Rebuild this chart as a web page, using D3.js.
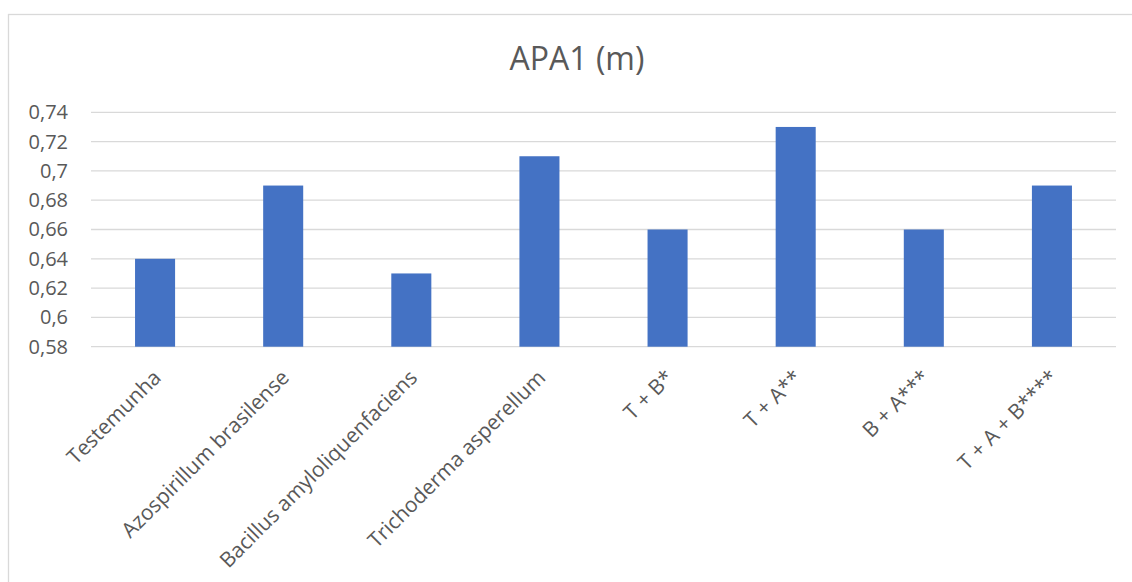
<!DOCTYPE html>
<html>
<head>
<meta charset="utf-8">
<script src="https://cdn.jsdelivr.net/npm/d3@7"></script>
<style>
  html, body { margin: 0; padding: 0; background: #fff; }
  svg { display: block; font-family: "Open Sans", sans-serif; }
</style>
</head>
<body>
<svg id="chart" width="1132" height="582"></svg>
<script>
// Treatments and plant height (APA1, metres)
const categories = [
  "Testemunha",
  "Azospirillum brasilense",
  "Bacillus amyloliquenfaciens",
  "Trichoderma asperellum",
  "T + B*",
  "T + A**",
  "B + A***",
  "T + A + B****"
];
const values = [0.64, 0.69, 0.63, 0.71, 0.66, 0.73, 0.66, 0.69];
const yTicks = [0.58, 0.60, 0.62, 0.64, 0.66, 0.68, 0.70, 0.72, 0.74];
const title = "APA1 (m)";

const svg = d3.select("#chart");
const W = 1132, H = 582;
const plot = { left: 91, right: 1116, top: 112.3, bottom: 346.7 };

// chart area outline
svg.append("rect")
  .attr("x", 8.5).attr("y", 14.5)
  .attr("width", W + 20).attr("height", H + 20)
  .attr("fill", "#fff").attr("stroke", "#d9d9d9").attr("stroke-width", 1.3);

const x = d3.scaleBand()
  .domain(categories)
  .range([plot.left, plot.right])
  .paddingInner(0.6875)
  .paddingOuter(0.34375);

const y = d3.scaleLinear()
  .domain([0.58, 0.74])
  .range([plot.bottom, plot.top]);

const fmt = v => d3.format(".2~f")(v).replace(".", ",");

// gridlines
svg.append("g")
  .selectAll("line")
  .data(yTicks)
  .join("line")
  .attr("x1", plot.left).attr("x2", plot.right)
  .attr("y1", d => y(d)).attr("y2", d => y(d))
  .attr("stroke", "#d9d9d9").attr("stroke-width", 1.3);

// y axis labels
const yAxis = d3.axisLeft(y).tickValues(yTicks).tickFormat(fmt).tickSize(0).tickPadding(0);
const gy = svg.append("g").attr("transform", "translate(68,0)").call(yAxis);
gy.select(".domain").remove();
gy.selectAll("text")
  .attr("fill", "#595959")
  .style("font-size", "20px")
  .style("font-family", "'Open Sans', sans-serif");

// bars
svg.append("g")
  .selectAll("rect")
  .data(values)
  .join("rect")
  .attr("x", (d, i) => x(categories[i]))
  .attr("width", x.bandwidth())
  .attr("y", d => y(d))
  .attr("height", d => y(0.58) - y(d))
  .attr("fill", "#4472c4");

// x axis labels, rotated
const xAxis = d3.axisBottom(x).tickSize(0).tickPadding(0);
const gx = svg.append("g").attr("transform", `translate(0,${plot.bottom})`).call(xAxis);
gx.select(".domain").remove();
gx.selectAll(".tick text")
  .attr("fill", "#595959")
  .style("font-size", "21px")
  .style("font-family", "'Open Sans', sans-serif")
  .attr("text-anchor", "end")
  .attr("dy", "0.35em")
  .attr("transform", "translate(2,27) rotate(-45)");

// title
svg.append("text")
  .attr("x", 577).attr("y", 70)
  .attr("text-anchor", "middle")
  .attr("fill", "#595959")
  .style("font-size", "32px")
  .text(title);
</script>
</body>
</html>
